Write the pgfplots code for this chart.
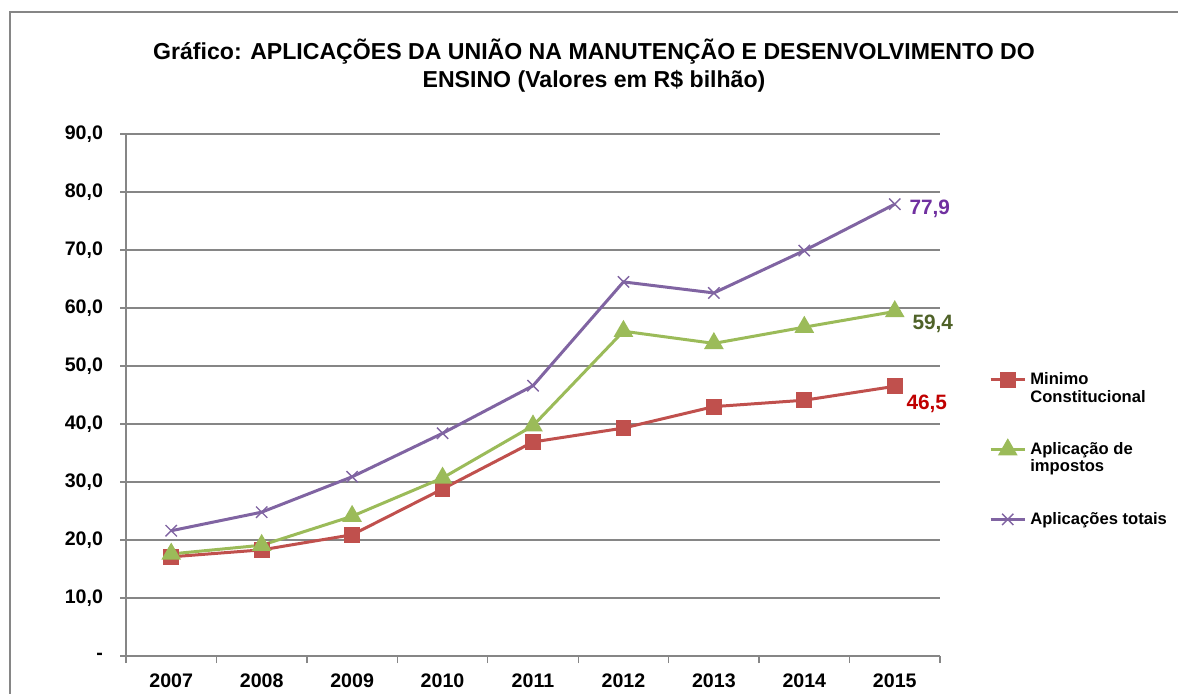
\documentclass[border=0pt]{standalone}
\usepackage{fontspec}
\setmainfont{Liberation Sans}
\usepackage{pgfplots}
\pgfplotsset{compat=1.18}
\definecolor{cred}{HTML}{C0504D}
\definecolor{cgreen}{HTML}{9BBB59}
\definecolor{cpurple}{HTML}{8064A2}
\definecolor{lpurple}{HTML}{7030A0}
\definecolor{lgreen}{HTML}{4F6228}
\definecolor{lred}{HTML}{C00000}
\definecolor{gridc}{HTML}{868686}
\begin{document}
\begin{tikzpicture}
\path[use as bounding box] (0,0) rectangle (589pt,346.5pt);
\draw[gridc, line width=0.7pt] (5pt,-2pt) -- (5pt,340.5pt) -- (592pt,340.5pt);
\node[font=\bfseries\fontsize{11.55}{14}\selectfont, align=center] at (297pt,313.5pt)
  {Gráfico: APLICAÇÕES DA UNIÃO NA MANUTENÇÃO E DESENVOLVIMENTO DO\\ENSINO (Valores em R\$ bilhão)};
\begin{axis}[
  at={(63pt,18.5pt)}, anchor=south west,
  scale only axis, width=407pt, height=261pt,
  xmin=2006.5, xmax=2015.5, ymin=0, ymax=90,
  axis lines*=left,
  axis line style={gridc, line width=0.7pt},
  xtick={2007,2008,2009,2010,2011,2012,2013,2014,2015},
  xticklabels={2007,2008,2009,2010,2011,2012,2013,2014,2015},
  minor xtick={2006.5,2007.5,2008.5,2009.5,2010.5,2011.5,2012.5,2013.5,2014.5,2015.5},
  ytick={0,10,20,30,40,50,60,70,80,90},
  yticklabels={-,{10,0},{20,0},{30,0},{40,0},{50,0},{60,0},{70,0},{80,0},{90,0}},
  ymajorgrids, grid style={gridc, line width=0.7pt},
  tick align=outside,
  major x tick style={draw=none},
  minor x tick style={gridc, line width=0.7pt},
  major y tick style={gridc, line width=0.7pt},
  major tick length=3pt, minor tick length=3.5pt,
  ticklabel style={font=\bfseries\fontsize{9.8}{11}\selectfont},
  xticklabel style={yshift=-2.6pt},
  yticklabel style={xshift=-5pt},
  legend style={at={(1.060,0.552)}, anchor=north west, draw=none, fill=none,
    font=\bfseries\fontsize{8.3}{8.8}\selectfont, row sep=23.2pt, inner sep=0pt},
  legend cell align=left,
  clip=false,
]
\addplot[cred, line width=1.5pt, mark=square*, mark size=3.2pt, mark options={solid}]
  coordinates {(2007,17.1) (2008,18.3) (2009,20.9) (2010,28.8) (2011,36.9) (2012,39.3) (2013,43.0) (2014,44.1) (2015,46.5)};
\addlegendentry{\begin{tabular}[t]{@{}l@{}}Minimo\\Constitucional\end{tabular}}
\addplot[cgreen, line width=1.5pt, mark=triangle*, mark size=4.2pt, mark options={solid}]
  coordinates {(2007,17.6) (2008,19.1) (2009,24.1) (2010,30.7) (2011,39.7) (2012,56.0) (2013,53.9) (2014,56.7) (2015,59.4)};
\addlegendentry{\begin{tabular}[t]{@{}l@{}}Aplicação de\\impostos\end{tabular}}
\addplot[cpurple, line width=1.5pt, mark=x, mark size=4pt, mark options={solid, line width=0.7pt}]
  coordinates {(2007,21.6) (2008,24.8) (2009,30.9) (2010,38.4) (2011,46.6) (2012,64.5) (2013,62.6) (2014,69.9) (2015,77.9)};
\addlegendentry{\begin{tabular}[t]{@{}l@{}}Aplicações totais\\\mbox{}\end{tabular}}
\node[font=\bfseries\fontsize{10.4}{12}\selectfont, text=lpurple] at (axis cs:2015,77.9) [xshift=17.5pt, yshift=-2.5pt] {77,9};
\node[font=\bfseries\fontsize{10.4}{12}\selectfont, text=lgreen] at (axis cs:2015,59.4) [xshift=19pt, yshift=-6pt] {59,4};
\node[font=\bfseries\fontsize{10.4}{12}\selectfont, text=lred] at (axis cs:2015,46.5) [xshift=16pt, yshift=-9pt] {46,5};
\end{axis}
\end{tikzpicture}
\end{document}
